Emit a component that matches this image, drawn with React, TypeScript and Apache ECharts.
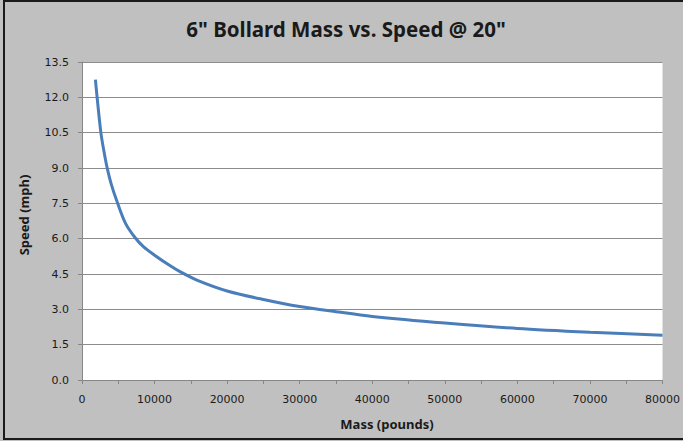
import React, { useEffect, useRef } from "react";
import * as echarts from "echarts";

const title = '6" Bollard Mass vs. Speed @ 20"';
const xAxisTitle = "Mass (pounds)";
const yAxisTitle = "Speed (mph)";

// Mass (pounds)
const mass = [1850, 2050, 2600, 3000, 3400, 4000, 4800, 6000, 7300, 8500, 10000, 12000, 13500, 16000, 20000, 25000, 30000, 35000, 40000, 50000, 60000, 70000, 80000];
// Speed (mph)
const speed = [12.75, 12.1, 10.5, 9.75, 9.1, 8.35, 7.6, 6.65, 6.05, 5.65, 5.3, 4.88, 4.6, 4.22, 3.78, 3.42, 3.12, 2.9, 2.7, 2.42, 2.19, 2.03, 1.9];

const yMin = 0;
const yMax = 13.5;
const yStep = 1.5;
const xMin = 0;
const xMax = 80000;
const xTickStep = 5000;
const xLabelStep = 10000;

export default function App() {
  const ref = useRef<HTMLDivElement>(null);
  useEffect(() => {
    if (!ref.current) return;
    const chart = echarts.init(ref.current, null, { renderer: "svg" });
    const labelFont = "DejaVu Sans";
    chart.setOption({
      animation: false,
      backgroundColor: "#c0c0c0",
      graphic: [
        {
          type: "rect",
          shape: { x: 4, y: 1, width: 700, height: 438 },
          style: { fill: "none", stroke: "#1a1a1a", lineWidth: 2 },
          silent: true,
          z: 100,
        },
        {
          type: "text",
          x: 346,
          y: 29,
          style: {
            text: title,
            fill: "#1a1a1a",
            font: "bold 20.5px 'Noto Sans'",
            textAlign: "center",
            textVerticalAlign: "middle",
          },
        },
        {
          type: "text",
          x: 387,
          y: 424,
          style: {
            text: xAxisTitle,
            fill: "#1a1a1a",
            font: "bold 13px 'Noto Sans'",
            textAlign: "center",
            textVerticalAlign: "middle",
          },
        },
        {
          type: "text",
          x: 24,
          y: 215,
          rotation: Math.PI / 2,
          style: {
            text: yAxisTitle,
            fill: "#1a1a1a",
            font: "bold 13px 'Noto Sans'",
            textAlign: "center",
            textVerticalAlign: "middle",
          },
        },
      ],
      grid: {
        left: 82,
        right: 20,
        top: 62,
        bottom: 61,
        show: true,
        backgroundColor: "#ffffff",
        borderWidth: 0,
      },
      xAxis: {
        type: "value",
        min: xMin,
        max: xMax,
        interval: xTickStep,
        axisLine: { show: true, lineStyle: { color: "#868686", width: 1 } },
        axisTick: { show: true, length: 4, lineStyle: { color: "#868686" } },
        splitLine: { show: false },
        axisLabel: {
          margin: 14,
          color: "#1a1a1a",
          fontFamily: labelFont,
          fontSize: 11,
          formatter: (v: number) => (v % xLabelStep === 0 ? String(v) : ""),
        },
      },
      yAxis: {
        type: "value",
        min: yMin,
        max: yMax,
        interval: yStep,
        axisLine: { show: true, lineStyle: { color: "#868686", width: 1 } },
        axisTick: { show: true, length: 4, lineStyle: { color: "#868686" } },
        splitLine: { show: true, lineStyle: { color: "#8c8c8c", width: 1 } },
        axisLabel: {
          margin: 13,
          color: "#1a1a1a",
          fontFamily: labelFont,
          fontSize: 11,
          formatter: (v: number) => v.toFixed(1),
        },
      },
      series: [
        {
          type: "line",
          data: mass.map((m, i) => [m, speed[i]]),
          smooth: 0.3,
          showSymbol: false,
          lineStyle: { color: "#4a7ebb", width: 3 },
        },
      ],
    });
    return () => chart.dispose();
  }, []);
  return (
    <div
      ref={ref}
      style={{ position: "fixed", left: 0, top: 0, width: 683, height: 441 }}
    />
  );
}
